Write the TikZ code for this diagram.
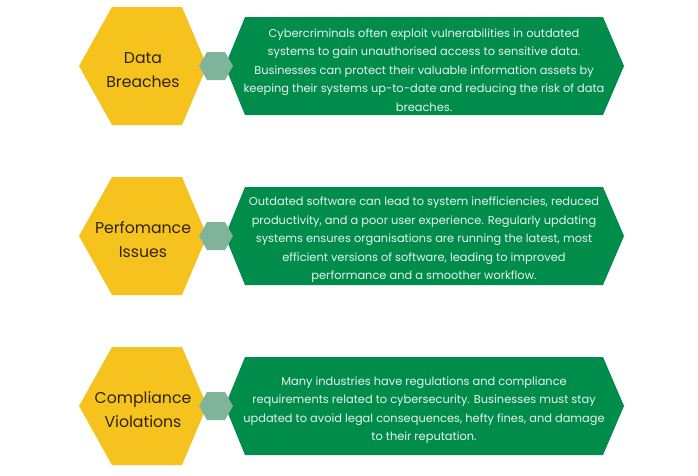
\documentclass[tikz,border=0pt]{standalone}
\usepackage{fontspec}
\setmainfont{Poppins}
\definecolor{hexyellow}{HTML}{F6C31E}
\definecolor{hexgreen}{HTML}{008D4C}
\definecolor{hexlink}{HTML}{7FB49A}
\definecolor{darktext}{HTML}{2E2410}
\definecolor{lighttext}{HTML}{E9F2EA}
\tikzset{
  yellowhex/.style={fill=hexyellow},
  greenhex/.style={fill=hexgreen},
  linkhex/.style={fill=hexlink},
  titletext/.style={font=\fontsize{15.7}{24}\selectfont, text=darktext, align=center, inner sep=0pt},
  bodytext/.style={font=\fontsize{11.4}{18.5}\selectfont, text=lighttext, align=center, inner sep=0pt},
}
\newcommand{\hexrow}[4]{%
  \begin{scope}[yshift=#1]
    \fill[yellowhex] (79,66) -- (112,7) -- (182,7) -- (207,66) -- (182,125) -- (112,125) -- cycle;
    \fill[greenhex] (225,66) -- (245,17) -- (603,17) -- (624,66) -- (603,115) -- (245,115) -- cycle;
    \fill[linkhex] (199,66) -- (207,52) -- (225,52) -- (233,66) -- (225,80) -- (207,80) -- cycle;
    \node[titletext] (#2title) at (143,70) {#3};
    \node[bodytext] (#2body) at (424,70) {#4};
  \end{scope}}
\begin{document}
\begin{tikzpicture}[x=1pt,y=-1pt]
\useasboundingbox[fill=white] (0,0) rectangle (698,475);
\hexrow{0pt}{a}{Data\\Breaches}{Cybercriminals often exploit vulnerabilities in outdated\\systems to gain unauthorised access to sensitive data.\\Businesses can protect their valuable information assets by\\keeping their systems up-to-date and reducing the risk of data\\breaches.}
\hexrow{-170pt}{b}{Perfomance\\Issues}{Outdated software can lead to system inefficiencies, reduced\\productivity, and a poor user experience. Regularly updating\\systems ensures organisations are running the latest, most\\efficient versions of software, leading to improved\\performance and a smoother workflow.}
\hexrow{-340pt}{c}{Compliance\\Violations}{Many industries have regulations and compliance\\requirements related to cybersecurity. Businesses must stay\\updated to avoid legal consequences, hefty fines, and damage\\to their reputation.}
\end{tikzpicture}
\end{document}
